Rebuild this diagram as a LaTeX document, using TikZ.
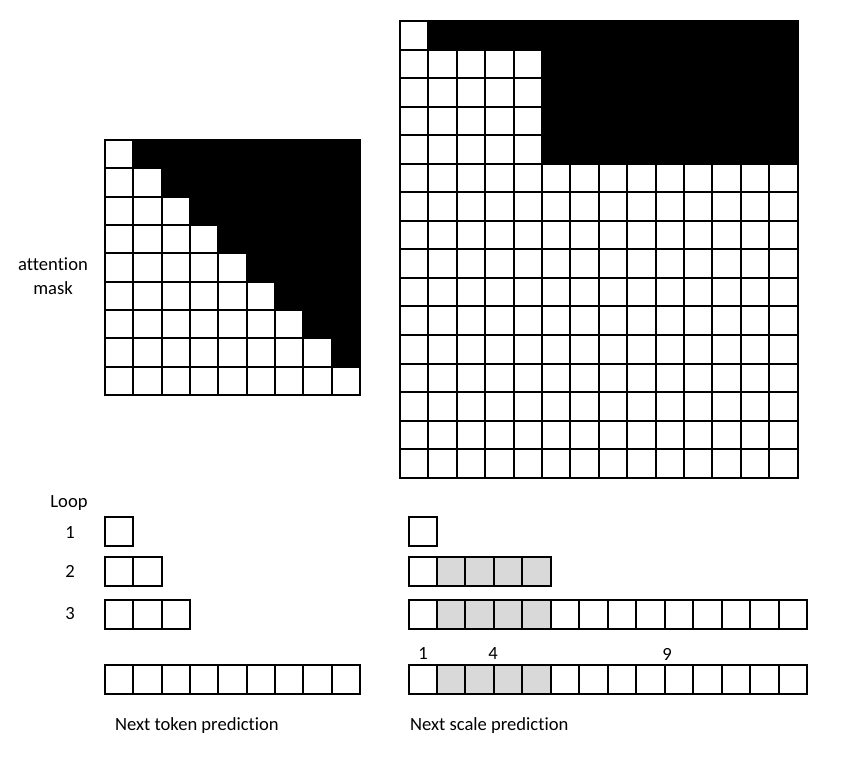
\documentclass[tikz,border=0pt]{standalone}
\usepackage{fontspec}
\setmainfont{Carlito}[Ligatures={NoCommon,NoContextual,NoRequired}]
\begin{document}
\begin{tikzpicture}[x=1pt,y=-1pt,line width=2pt,
  cellbox/.style={draw=black,line width=2pt},
  graycell/.style={fill=tokgray,draw=black,line width=2pt},
  lbl/.style={inner sep=0pt,font=\fontsize{18.6}{24}\selectfont}]
\definecolor{tokgray}{HTML}{D9D9D9}
\useasboundingbox (0,0) rectangle (854,767);
\fill[white] (0,0) rectangle (854,767);
% ---- left attention mask 9x9
\def\lc{28.35}
\foreach \r in {0,...,7}
  \fill[black] ({105+(\r+1)*\lc},{140+\r*\lc}) rectangle ({105+9*\lc},{140+(\r+1)*\lc});
\foreach \r in {0,...,8}
  \foreach \c in {0,...,8}
    \draw[cellbox] ({105+\c*\lc},{140+\r*\lc}) rectangle ++(\lc,\lc);
% ---- right attention mask 14x16
\def\rcx{28.4}
\def\rcy{28.5}
\fill[black] ({400+\rcx},21.5) rectangle ({400+14*\rcx},{21.5+\rcy});
\fill[black] ({400+5*\rcx},{21.5+\rcy}) rectangle ({400+14*\rcx},{21.5+5*\rcy});
\foreach \r in {0,...,15}
  \foreach \c in {0,...,13}
    \draw[cellbox] ({400+\c*\rcx},{21.5+\r*\rcy}) rectangle ++(\rcx,\rcy);
% ---- labels
\node[lbl,align=center] (attn) at (53,276) {attention\\mask};
\node[lbl] (loop) at (69,503.5) {Loop};
\node[lbl] (l1) at (70,533) {1};
\node[lbl] (l2) at (70,571) {2};
\node[lbl] (l3) at (70,614) {3};
\node[lbl] (n1) at (423,654) {1};
\node[lbl] (n4) at (493,654) {4};
\node[lbl] (n9) at (667,654) {9};
\node[lbl,anchor=west] (ntp) at (114,726) {Next token prediction};
\node[lbl,anchor=west] (nsp) at (409,726) {Next scale prediction};
% ---- bottom left sequences
\def\bc{28.35}
\def\bh{29.3}
\draw[cellbox] (105,517) rectangle ++(\bc,\bh);
\foreach \c in {0,1}
  \draw[cellbox] ({105+\c*\bc},556.5) rectangle ++(\bc,\bh);
\foreach \c in {0,1,2}
  \draw[cellbox] ({105+\c*\bc},599.5) rectangle ++(\bc,\bh);
\foreach \c in {0,...,8}
  \draw[cellbox] ({105+\c*\bc},665) rectangle ++(\bc,\bh);
% ---- bottom right sequences
\def\sc{28.48}
\draw[cellbox] (408.5,517) rectangle ++(\sc,\bh);
\draw[cellbox] (408.5,556.5) rectangle ++(\sc,\bh);
\foreach \c in {1,...,4}
  \draw[graycell] ({408.5+\c*\sc},556.5) rectangle ++(\sc,\bh);
\foreach \y in {599.5,665}{
  \draw[cellbox] (408.5,\y) rectangle ++(\sc,\bh);
  \foreach \c in {1,...,4}
    \draw[graycell] ({408.5+\c*\sc},\y) rectangle ++(\sc,\bh);
  \foreach \c in {5,...,13}
    \draw[cellbox] ({408.5+\c*\sc},\y) rectangle ++(\sc,\bh);
}
\end{tikzpicture}
\end{document}
